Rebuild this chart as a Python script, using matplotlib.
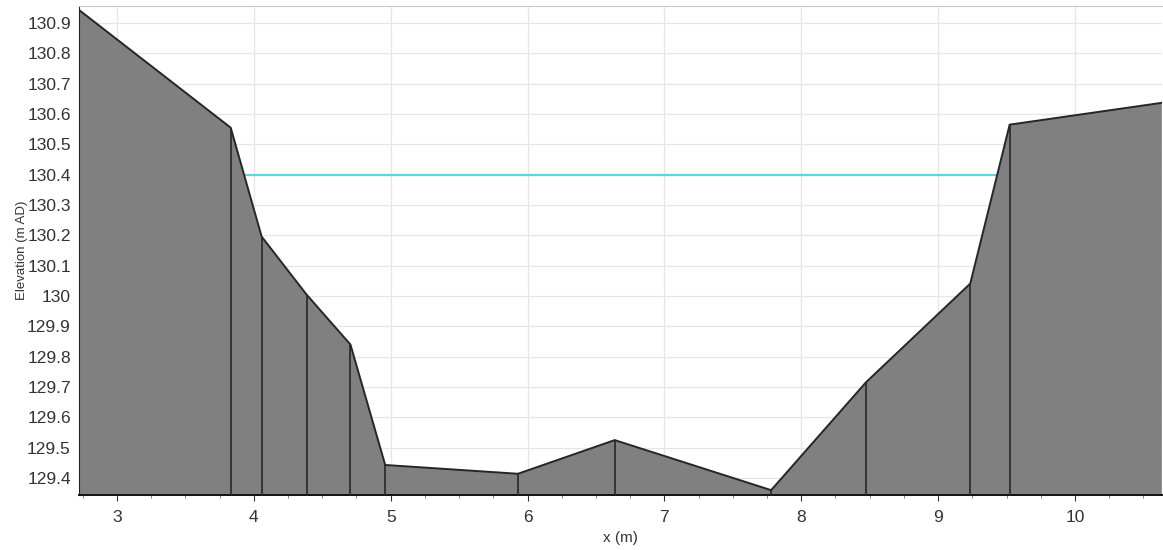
import matplotlib
matplotlib.use("Agg")
import matplotlib.pyplot as plt
import numpy as np
from matplotlib.ticker import MultipleLocator

# cross-section survey points
x_pts = [2.723, 3.831, 4.057, 4.385, 4.706, 4.96, 5.93, 6.637, 7.78, 8.474, 9.235, 9.523, 10.635]
z_pts = [130.943, 130.555, 130.196, 130.005, 129.84, 129.443, 129.414, 129.525, 129.36,
         129.716, 130.041, 130.565, 130.637]
water_level = 130.4

x_lim = (2.723, 10.635)
y_lim = (129.344, 130.956)
y_ticks = [129.4, 129.5, 129.6, 129.7, 129.8, 129.9, 130.0, 130.1, 130.2, 130.3,
           130.4, 130.5, 130.6, 130.7, 130.8, 130.9]
y_labels = ['129.4', '129.5', '129.6', '129.7', '129.8', '129.9', '130', '130.1', '130.2',
            '130.3', '130.4', '130.5', '130.6', '130.7', '130.8', '130.9']
x_ticks = [3, 4, 5, 6, 7, 8, 9, 10]


def water_edges(x, z, level):
    # first crossing from the left bank and from the right bank
    x = np.asarray(x)
    z = np.asarray(z)
    left = right = None
    for i in range(len(x) - 1):
        if (z[i] - level) * (z[i + 1] - level) < 0:
            t = (level - z[i]) / (z[i + 1] - z[i])
            xc = x[i] + t * (x[i + 1] - x[i])
            if left is None:
                left = xc
            right = xc
    return left, right


plt.rcParams['font.family'] = ['Liberation Sans', 'DejaVu Sans']

fig = plt.figure(figsize=(11.63, 5.5), dpi=100)
ax = fig.add_axes([0.068, 0.1, 0.931, 0.889])

ax.set_axisbelow(True)
ax.grid(which='major', color='#e6e6e6', linewidth=0.9)

bottom = y_lim[0]
ax.fill_between(x_pts, z_pts, bottom, facecolor='#808080', edgecolor='none', zorder=2)
ax.plot(x_pts, z_pts, color='#262626', linewidth=1.4, zorder=4)
ax.vlines(x_pts[1:-1], bottom, z_pts[1:-1], color='#333333', linewidth=1.4, zorder=3)

wl, wr = water_edges(x_pts, z_pts, water_level)
ax.plot([wl, wr], [water_level, water_level], color='#5ad8e2', linewidth=1.6, zorder=3)

ax.set_xlim(*x_lim)
ax.set_ylim(*y_lim)
ax.set_xticks(x_ticks)
ax.set_xticklabels([str(v) for v in x_ticks])
ax.xaxis.set_minor_locator(MultipleLocator(0.25))
ax.set_yticks(y_ticks)
ax.set_yticklabels(y_labels)

ax.tick_params(axis='both', which='major', labelsize=12.5, colors='#333333', length=4,
               width=0.8, pad=3)
ax.tick_params(axis='x', which='major', pad=7)
ax.tick_params(axis='x', which='minor', length=2.5, width=0.6, colors='#666666')
ax.tick_params(axis='y', which='major', length=0, pad=6)

ax.spines['right'].set_visible(False)
ax.spines['top'].set_color('#c8c8c8')
ax.spines['left'].set_color('#222222')
ax.spines['bottom'].set_color('#111111')
ax.spines['bottom'].set_linewidth(1.4)

ax.set_xlabel('x (m)', fontsize=11, color='#333333', labelpad=4)
ax.set_ylabel('Elevation (m AD)', fontsize=9.5, color='#333333')
ax.yaxis.set_label_coords(-0.047, 0.5)

fig.savefig('out.png', dpi=100)
